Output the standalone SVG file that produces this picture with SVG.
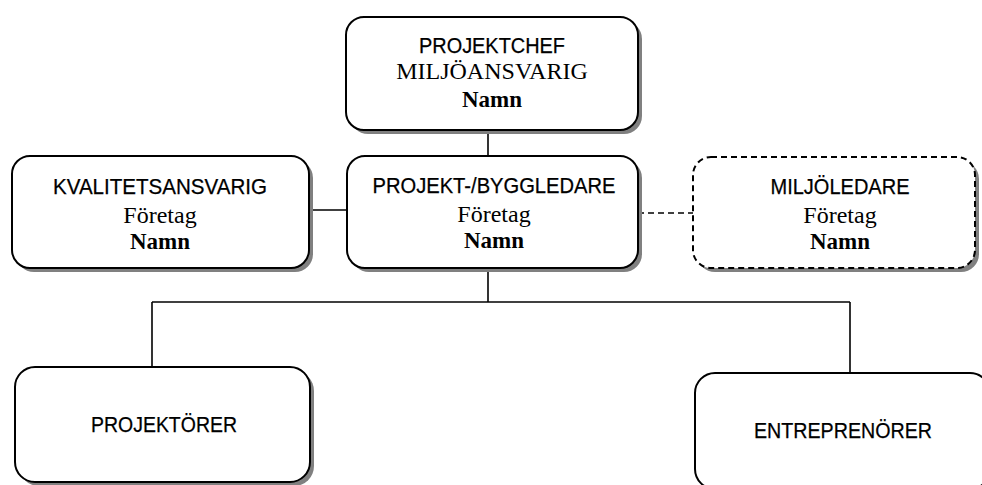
<svg xmlns="http://www.w3.org/2000/svg" width="982" height="485" viewBox="0 0 982 485">
<style>
.shadow{fill:#808080;stroke:none}
.box{fill:#fff;stroke:#000;stroke-width:2}
.dbox{fill:#fff;stroke:#000;stroke-width:2;stroke-dasharray:6 4}
.line{stroke:#000;stroke-width:1.6;fill:none}
.dline{stroke:#000;stroke-width:1.6;fill:none;stroke-dasharray:6 4}
.t1{font-family:"Liberation Sans",Arial,sans-serif;font-size:21.5px;fill:#000;stroke:#000;stroke-width:0.25;text-anchor:middle}
.t2{font-family:"Liberation Serif","Times New Roman",serif;font-size:24px;fill:#000;text-anchor:middle}
.t3{font-family:"Liberation Serif","Times New Roman",serif;font-size:23px;font-weight:bold;fill:#000;text-anchor:middle}
</style>
<rect width="982" height="485" fill="#fff"/>
<g id="connectors">
<line class="line" x1="488" y1="130" x2="488" y2="156"/>
<line class="line" x1="488" y1="268" x2="488" y2="302"/>
<line class="line" x1="152" y1="302" x2="850" y2="302"/>
<line class="line" x1="152" y1="302" x2="152" y2="367"/>
<line class="line" x1="850" y1="302" x2="850" y2="373"/>
<line class="line" x1="309" y1="210" x2="347" y2="210"/>
<line class="dline" x1="638" y1="213" x2="693" y2="213"/>
</g>
<g id="projektchef">
<rect class="shadow" x="350" y="21" width="292" height="113" rx="18"/>
<rect class="box" x="346" y="17" width="292" height="113" rx="18"/>
<text class="t1" x="492" y="53" textLength="146" lengthAdjust="spacingAndGlyphs">PROJEKTCHEF</text>
<text class="t2" x="492" y="79">MILJÖANSVARIG</text>
<text class="t3" x="492" y="107">Namn</text>
</g>
<g id="projektledare">
<rect class="shadow" x="351" y="160" width="291" height="112" rx="18"/>
<rect class="box" x="347" y="156" width="291" height="112" rx="18"/>
<text class="t1" x="494" y="193" textLength="243" lengthAdjust="spacingAndGlyphs">PROJEKT-/BYGGLEDARE</text>
<text class="t2" x="494" y="222">Företag</text>
<text class="t3" x="494" y="248">Namn</text>
</g>
<g id="kvalitetsansvarig">
<rect class="shadow" x="16" y="160" width="297" height="112" rx="18"/>
<rect class="box" x="12" y="156" width="297" height="112" rx="18"/>
<text class="t1" x="160" y="194" textLength="214" lengthAdjust="spacingAndGlyphs">KVALITETSANSVARIG</text>
<text class="t2" x="160" y="223">Företag</text>
<text class="t3" x="160" y="249">Namn</text>
</g>
<g id="miljoledare">
<rect class="shadow" x="697" y="161" width="282" height="111" rx="18"/>
<rect class="dbox" x="693" y="157" width="282" height="111" rx="18"/>
<text class="t1" x="840" y="194" textLength="139" lengthAdjust="spacingAndGlyphs">MILJÖLEDARE</text>
<text class="t2" x="840" y="223">Företag</text>
<text class="t3" x="840" y="249">Namn</text>
</g>
<g id="projektorer">
<rect class="shadow" x="19" y="371" width="295" height="115" rx="20"/>
<rect class="box" x="15" y="367" width="295" height="115" rx="20"/>
<text class="t1" x="164" y="432" textLength="146" lengthAdjust="spacingAndGlyphs">PROJEKTÖRER</text>
</g>
<g id="entreprenorer">
<rect class="box" x="695" y="373" width="295" height="116" rx="20"/>
<text class="t1" x="843" y="438" textLength="178" lengthAdjust="spacingAndGlyphs">ENTREPRENÖRER</text>
</g>
</svg>
